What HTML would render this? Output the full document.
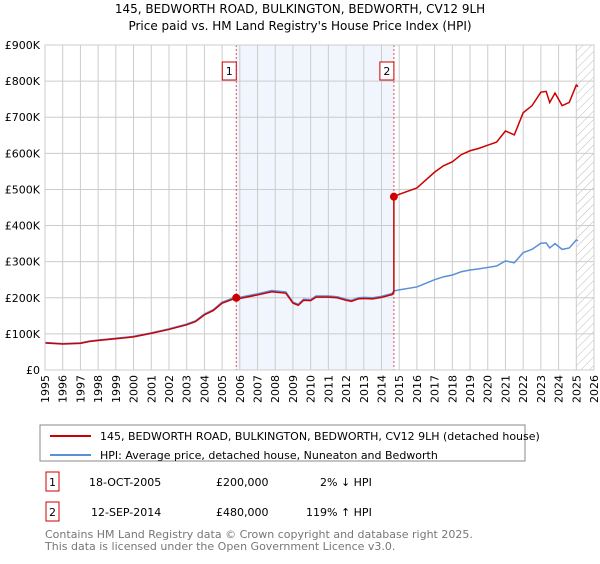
<!DOCTYPE html>
<html><head><meta charset="utf-8"><style>
body{margin:0;width:600px;height:560px;background:#fff;font-family:"DejaVu Sans","Liberation Sans",sans-serif;overflow:hidden}
svg text{font-family:"DejaVu Sans","Liberation Sans",sans-serif}
</style></head><body>
<svg id="c" width="600" height="560" xmlns="http://www.w3.org/2000/svg">
<defs><pattern id="hatch" width="6" height="6" patternUnits="userSpaceOnUse" patternTransform="rotate(45)"><line x1="0" y1="0" x2="0" y2="6" stroke="#bbb" stroke-width="1"/></pattern></defs>
<text x="300" y="13" text-anchor="middle" font-size="12">145, BEDWORTH ROAD, BULKINGTON, BEDWORTH, CV12 9LH</text>
<text x="300" y="30" text-anchor="middle" font-size="12">Price paid vs. HM Land Registry's House Price Index (HPI)</text>
<g id="grid"></g><g id="marks"></g><g id="axes"></g>
<rect x="40" y="425" width="485" height="36" fill="#fff" stroke="#888"/>
<line x1="50" y1="436" x2="91" y2="436" stroke="#cc0000" stroke-width="2"/>
<text x="100" y="440" font-size="11">145, BEDWORTH ROAD, BULKINGTON, BEDWORTH, CV12 9LH (detached house)</text>
<line x1="50" y1="455" x2="91" y2="455" stroke="#5b8fd6" stroke-width="2"/>
<text x="100" y="459" font-size="11">HPI: Average price, detached house, Nuneaton and Bedworth</text>
<g font-size="11">
<rect x="46" y="472" width="13" height="19" fill="#fff" stroke="#cc0000"/><text x="52.5" y="486" text-anchor="middle">1</text>
<text x="89" y="486">18-OCT-2005</text><text x="216" y="486">£200,000</text><text x="320" y="486">2% ↓ HPI</text>
<rect x="46" y="502" width="13" height="19" fill="#fff" stroke="#cc0000"/><text x="52.5" y="516" text-anchor="middle">2</text>
<text x="91" y="516">12-SEP-2014</text><text x="216" y="516">£480,000</text><text x="306" y="516">119% ↑ HPI</text>
</g>
<text x="45" y="538" font-size="11" fill="#777">Contains HM Land Registry data © Crown copyright and database right 2025.</text>
<text x="45" y="550" font-size="11" fill="#777">This data is licensed under the Open Government Licence v3.0.</text>
</svg>
<script>
const hpiYears=[1995.0,1996,1997,1997.5,1998,1999,2000,2001,2002,2003,2003.5,2004,2004.5,2005,2005.5,2005.8,2006,2007,2007.8,2008.6,2009.0,2009.3,2009.6,2010,2010.3,2011,2011.5,2012,2012.3,2012.7,2013,2013.5,2014,2014.6,2014.7,2015,2016,2016.5,2017,2017.5,2018,2018.5,2019,2019.5,2020,2020.5,2021,2021.5,2022,2022.5,2023,2023.3,2023.5,2023.8,2024.2,2024.6,2025.0,2025.1];
const hpiValues=[76,73,75,80,83,88,93,103,114,127,136,155,167,188,197,203,201,211,220,216,188,182,196,195,205,205,203,196,193,200,201,200,204,212,219,222,230,240,250,258,263,272,277,280,284,288,302,297,325,334,351,352,338,350,334,338,360,358];
const saleYears=[2005.8,2014.7];
const salePrices=[200000,480000];
const saleLabels=["1","2"];
const yTicks=[0,100000,200000,300000,400000,500000,600000,700000,800000,900000];
const yTickLabels=["£0","£100K","£200K","£300K","£400K","£500K","£600K","£700K","£800K","£900K"];
const xTicks=[1995,1996,1997,1998,1999,2000,2001,2002,2003,2004,2005,2006,2007,2008,2009,2010,2011,2012,2013,2014,2015,2016,2017,2018,2019,2020,2021,2022,2023,2024,2025,2026];
const L=45,R=594,T=45,B=370;
const x=v=>L+(v-1995)/(2026-1995)*(R-L);
const y=v=>B-v/900000*(B-T);
const NS="http://www.w3.org/2000/svg";
function mk(tag,attrs,parent){const e=document.createElementNS(NS,tag);for(const k in attrs)e.setAttribute(k,attrs[k]);parent.appendChild(e);return e;}
const grid=document.getElementById('grid'),marks=document.getElementById('marks'),axes=document.getElementById('axes');
// shaded period
const sh=mk('rect',{x:x(saleYears[0]),y:T,width:x(saleYears[1])-x(saleYears[0]),height:B-T,fill:'#eef3fc',opacity:0.8},grid);


const hz=mk('rect',{x:x(2025.0),y:T,width:R-x(2025.0),height:B-T,fill:'url(#hatch)'},grid);


xTicks.forEach(t=>{const l=mk('line',{x1:x(t),x2:x(t),y1:T,y2:B,stroke:'#ccc','stroke-width':1},grid);


const tx=mk('text',{x:0,y:0,'font-size':11,'text-anchor':'end',transform:`translate(${x(t)+4},${B+5}) rotate(-90)`},axes);tx.textContent=t;

});
yTicks.forEach((t,i)=>{const l=mk('line',{x1:L,x2:R,y1:y(t),y2:y(t),stroke:'#ccc','stroke-width':1},grid);


const tx=mk('text',{x:L-5,y:y(t)+4,'font-size':11,'text-anchor':'end'},axes);tx.textContent=yTickLabels[i];

});
function hpiAt(yr){for(let i=0;i<hpiYears.length-1;i++){if(yr>=hpiYears[i]&&yr<=hpiYears[i+1]){const f=(yr-hpiYears[i])/(hpiYears[i+1]-hpiYears[i]);return (hpiValues[i]+f*(hpiValues[i+1]-hpiValues[i]))*1000;}}return hpiValues[hpiValues.length-1]*1000;}
// sale markers lines
saleYears.forEach((s,i)=>{const l=mk('line',{x1:x(s),x2:x(s),y1:T,y2:B,stroke:'#e05050','stroke-dasharray':'2,2','stroke-width':1},grid);


const bx=mk('rect',{x:x(s)-14,y:62,width:14,height:18,fill:'#fff',stroke:'#cc0000'},axes);


const t=mk('text',{x:x(s)-7,y:75,'font-size':11,'text-anchor':'middle'},axes);t.textContent=saleLabels[i];

});
// HPI line
const hp=mk('polyline',{points:hpiYears.map((yr,i)=>x(yr)+','+y(hpiValues[i]*1000)).join(' '),fill:'none',stroke:'#5b8fd6','stroke-width':1.5},marks);


// property line: HPI scaled by the most recent sale
const r0=salePrices[0]/hpiAt(saleYears[0]),r1=salePrices[1]/hpiAt(saleYears[1]);
let pts=[];
hpiYears.forEach((yr,i)=>{if(yr<saleYears[1])pts.push(x(yr)+','+y(hpiValues[i]*1000*r0));});
pts.push(x(saleYears[1])+','+y(hpiAt(saleYears[1])*r0));
pts.push(x(saleYears[1])+','+y(salePrices[1]));
hpiYears.forEach((yr,i)=>{if(yr>saleYears[1])pts.push(x(yr)+','+y(hpiValues[i]*1000*r1));});
const pl=mk('polyline',{points:pts.join(' '),fill:'none',stroke:'#cc0000','stroke-width':1.5},marks);


saleYears.forEach((s,i)=>{const c=mk('circle',{cx:x(s),cy:y(salePrices[i]),r:4,fill:'#cc0000'},marks);

});
const fr=mk('rect',{x:L,y:T,width:R-L,height:B-T,fill:'none',stroke:'#ccc'},axes);


</script>
</body></html>
